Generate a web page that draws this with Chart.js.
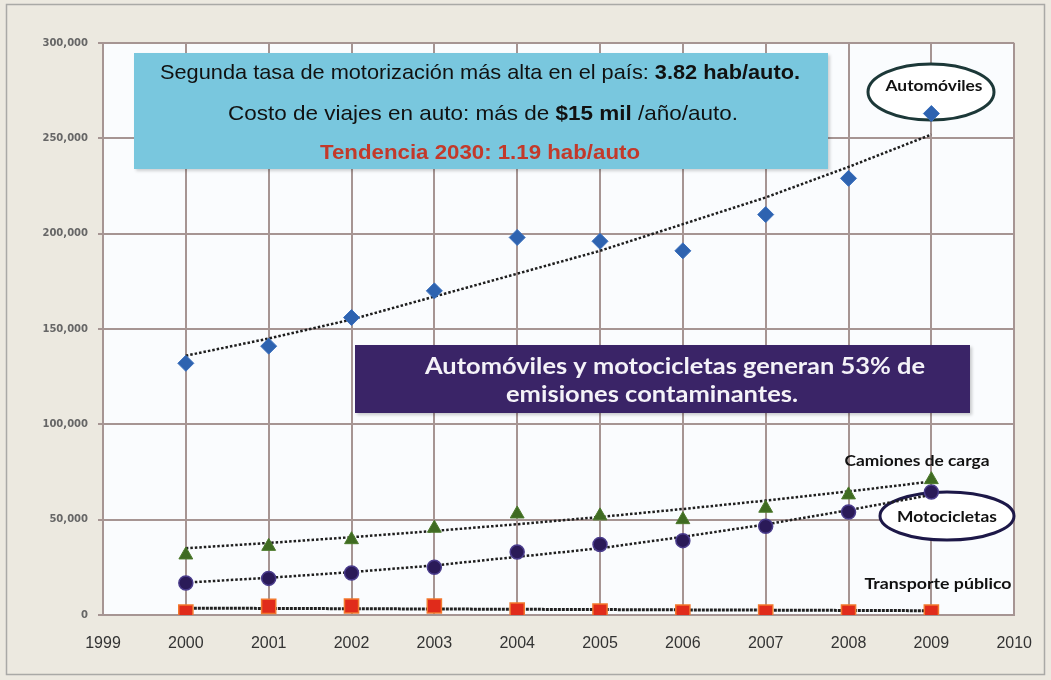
<!DOCTYPE html>
<html>
<head>
<meta charset="utf-8">
<script src="https://cdn.jsdelivr.net/npm/chart.js@4"></script>
<style>
  html, body { margin: 0; padding: 0; background: #ECE9E0; }
  #wrap { width: 1051px; height: 680px; }
</style>
</head>
<body>
<div id="wrap"><canvas id="chart" width="1051" height="680"></canvas></div>
<script>
// values
const years = [2000, 2001, 2002, 2003, 2004, 2005, 2006, 2007, 2008, 2009];
const automoviles = [132000, 141000, 156000, 170000, 198000, 196000, 191000, 210000, 229000, 263000];
const camiones = [31500, 36000, 39500, 45500, 53000, 52000, 50000, 56000, 63000, 71000];
const motocicletas = [16800, 19200, 22000, 25000, 33000, 37000, 39000, 46500, 54000, 64500];
const transporte = [1500, 4500, 4700, 4700, 2600, 2000, 1500, 1500, 1500, 1500];

// dotted trend lines as they appear
const trendAuto = [136000, 145000, 155000, 167000, 179000, 191000, 205000, 219000, 235000, 252000];
const trendCamiones = [35000, 37800, 40800, 44100, 47600, 51400, 55600, 60000, 64800, 70000];
const trendMoto = [17000, 19500, 22500, 26000, 30500, 35000, 41000, 47500, 55000, 63000];
const trendTransporte = [3600, 3450, 3300, 3150, 3000, 2850, 2700, 2550, 2400, 2250];

const yTicks = [0, 50000, 100000, 150000, 200000, 250000, 300000];

const gridColor = '#A69593';

function pts(values) {
  return years.map((x, i) => ({ x, y: values[i] }));
}

// draw a row of text pieces, squeezed or stretched to a given width
function drawFitted(ctx, parts, cx, cy, width, size, family) {
  let total = 0;
  parts.forEach(p => {
    ctx.font = `${p.bold ? 'bold ' : ''}${size}px ${family}`;
    p.w = ctx.measureText(p.t).width;
    total += p.w;
  });
  const sx = width / total;
  ctx.save();
  ctx.translate(cx - width / 2, cy);
  ctx.scale(sx, 1);
  ctx.textAlign = 'left';
  ctx.textBaseline = 'middle';
  let x = 0;
  parts.forEach(p => {
    ctx.font = `${p.bold ? 'bold ' : ''}${size}px ${family}`;
    ctx.fillStyle = p.color || '#111';
    ctx.fillText(p.t, x, 0);
    x += p.w;
  });
  ctx.restore();
}

function ellipse(ctx, cx, cy, rx, ry, stroke) {
  ctx.save();
  ctx.beginPath();
  ctx.ellipse(cx, cy, rx, ry, 0, 0, Math.PI * 2);
  ctx.fillStyle = '#FFFFFF';
  ctx.fill();
  ctx.lineWidth = 3;
  ctx.strokeStyle = stroke;
  ctx.stroke();
  ctx.restore();
}

const decor = {
  id: 'decor',
  beforeDraw(chart) {
    const { ctx, chartArea: a } = chart;
    ctx.save();
    ctx.fillStyle = '#ECE9E0';
    ctx.fillRect(0, 0, chart.width, chart.height);
    ctx.strokeStyle = '#A9A9A6';
    ctx.lineWidth = 1.5;
    ctx.strokeRect(6.5, 4.5, 1038, 670);
    ctx.fillStyle = '#FAFCFE';
    ctx.fillRect(a.left, a.top, a.right - a.left, a.bottom - a.top);
    ctx.restore();
  },
  beforeDatasetsDraw(chart) {
    const ctx = chart.ctx;
    const sans = '"Liberation Sans", Arial, sans-serif';
    const cal = 'Lato, "Open Sans", sans-serif';

    // light blue box
    ctx.save();
    ctx.shadowColor = 'rgba(0,0,0,0.18)';
    ctx.shadowOffsetX = 2;
    ctx.shadowOffsetY = 2;
    ctx.shadowBlur = 3;
    ctx.fillStyle = '#79C7DE';
    ctx.fillRect(134, 53, 694, 116);
    ctx.restore();
    drawFitted(ctx, [
      { t: 'Segunda tasa de motorización más alta en el país: ' },
      { t: '3.82 hab/auto.', bold: true }
    ], 480, 73, 640, 21, sans);
    drawFitted(ctx, [
      { t: 'Costo de viajes en auto: más de ' },
      { t: '$15 mil', bold: true },
      { t: ' /año/auto.' }
    ], 483, 114, 510, 21, sans);
    drawFitted(ctx, [
      { t: 'Tendencia 2030: 1.19 hab/auto', bold: true, color: '#C3392A' }
    ], 480, 153, 320, 21, sans);

    // purple box
    ctx.save();
    ctx.shadowColor = 'rgba(0,0,0,0.2)';
    ctx.shadowOffsetX = 2;
    ctx.shadowOffsetY = 2;
    ctx.shadowBlur = 3;
    ctx.fillStyle = '#3A2467';
    ctx.fillRect(355, 345, 615, 68);
    ctx.restore();
    drawFitted(ctx, [
      { t: 'Automóviles y motocicletas generan 53% de', bold: true, color: '#F4F2F8' }
    ], 675, 367, 500, 22, cal);
    drawFitted(ctx, [
      { t: 'emisiones contaminantes.', bold: true, color: '#F4F2F8' }
    ], 652, 395, 292, 22, cal);

    // callouts
    ellipse(ctx, 931, 92, 63, 28, '#1C3838');
    drawFitted(ctx, [{ t: 'Automóviles', bold: true }], 934, 86, 97, 15, cal);
    ellipse(ctx, 947, 516, 67, 24, '#1D1848');
    drawFitted(ctx, [{ t: 'Motocicletas', bold: true }], 947, 517, 100, 15, cal);
    drawFitted(ctx, [{ t: 'Camiones de carga', bold: true }], 917, 461, 145, 15, cal);
    drawFitted(ctx, [{ t: 'Transporte público', bold: true }], 938, 584, 147, 15, cal);
  }
};

const trendStyle = {
  type: 'line',
  showLine: true,
  pointRadius: 0,
  borderColor: '#1E1E1E',
  borderWidth: 2.5,
  borderDash: [2.5, 2],
  fill: false,
  tension: 0,
};

new Chart(document.getElementById('chart'), {
  type: 'scatter',
  data: {
    datasets: [
      { label: 'Automóviles', data: pts(automoviles), pointStyle: 'rectRot', pointRadius: 8,
        backgroundColor: '#2E63B0', borderColor: '#3A70BE', borderWidth: 1 },
      { label: 'Camiones de carga', data: pts(camiones), pointStyle: 'triangle', pointRadius: 8,
        backgroundColor: '#3F6B22', borderColor: '#4C7A2C', borderWidth: 1 },
      { label: 'Motocicletas', data: pts(motocicletas), pointStyle: 'circle', pointRadius: 7,
        backgroundColor: '#2A1A58', borderColor: '#4A3C8C', borderWidth: 1.5 },
      { label: 'Transporte público', data: pts(transporte), pointStyle: 'rect', pointRadius: 10,
        backgroundColor: '#E02B1B', borderColor: '#F2782E', borderWidth: 1.5 },
      { ...trendStyle, label: 'Tendencia autos', data: pts(trendAuto) },
      { ...trendStyle, label: 'Tendencia camiones', data: pts(trendCamiones) },
      { ...trendStyle, label: 'Tendencia motos', data: pts(trendMoto) },
      { ...trendStyle, label: 'Tendencia transporte', data: pts(trendTransporte),
        borderWidth: 3, borderDash: [3, 1], borderColor: '#222' },
    ],
  },
  options: {
    responsive: false,
    animation: false,
    layout: { padding: { top: 43, right: 33, bottom: 0, left: 0 } },
    plugins: { legend: { display: false }, tooltip: { enabled: false } },
    scales: {
      x: {
        type: 'linear', min: 1999, max: 2010,
        afterFit: s => { s.height = 65; },
        grid: { color: gridColor, lineWidth: 2, tickLength: 0 },
        border: { color: gridColor, width: 2 },
        ticks: {
          stepSize: 1, padding: 19, color: '#333',
          font: { family: '"Liberation Sans", Arial, sans-serif', size: 16 },
          callback: v => String(v),
        },
      },
      y: {
        min: 0, max: 300000,
        afterFit: s => { s.width = 103; },
        afterBuildTicks: s => { s.ticks = yTicks.map(v => ({ value: v })); },
        grid: { color: gridColor, lineWidth: 2, tickLength: 5 },
        border: { color: gridColor, width: 2 },
        ticks: {
          padding: 10, color: '#666',
          font: { family: '"DejaVu Sans", sans-serif', size: 10, weight: 'bold' },
          callback: v => v.toLocaleString('en-US'),
        },
      },
    },
  },
  plugins: [decor],
});
</script>
</body>
</html>
